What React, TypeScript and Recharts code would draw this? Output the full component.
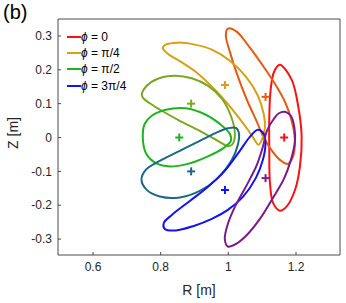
import React from "react";
import { ScatterChart, Scatter, XAxis, YAxis } from "recharts";

// flux surface cross-sections, [R, Z] in metres
const surfRed: [number, number][] = [
  [1.152, 0.215], [1.187, 0.171], [1.2065, 0.092], [1.2166, 0.003], [1.2115, -0.086],
  [1.197, -0.155], [1.172, -0.204], [1.152, -0.216], [1.1325, -0.194], [1.123, -0.135],
  [1.121, -0.036], [1.121, 0.062], [1.125, 0.141], [1.1355, 0.195],
];
const surfOrange: [number, number][] = [
  [0.9985, 0.3216], [1.0243, 0.3127], [1.0636, 0.2654], [1.1021, 0.2121], [1.1376, 0.1589],
  [1.1672, 0.1056], [1.1879, 0.0464], [1.1967, -0.0127], [1.1908, -0.0571], [1.176, -0.0778],
  [1.1524, -0.066], [1.1228, -0.0305], [1.105, -0.0009], [1.0843, 0.0464], [1.0547, 0.1115],
  [1.0251, 0.1885], [1.0044, 0.2536], [0.9926, 0.3009],
];
const surfGold: [number, number][] = [
  [0.8062, 0.264], [0.8151, 0.2743], [0.8506, 0.2802], [0.9009, 0.2743], [0.9512, 0.2595],
  [1.0044, 0.2269], [1.0518, 0.1796], [1.0873, 0.1234], [1.105, 0.0672], [1.108, 0.0287],
  [1.0991, -0.0068], [1.0888, -0.0216], [1.0784, -0.0083], [1.0577, 0.0228], [1.0222, 0.0701],
  [0.966, 0.1352], [0.9068, 0.1914], [0.8565, 0.2254], [0.821, 0.2476],
];
const surfOlive: [number, number][] = [
  [0.7441, 0.1263], [0.7589, 0.153], [0.7914, 0.1737], [0.8417, 0.1826], [0.892, 0.1751],
  [0.9393, 0.153], [0.9808, 0.1145], [1.0074, 0.0642], [1.0192, 0.0139], [1.0133, -0.0186],
  [1.0015, -0.026], [0.9689, -0.0098], [0.9157, 0.0198], [0.8565, 0.0494], [0.8033, 0.079],
  [0.7678, 0.1012], [0.75, 0.1145],
];
const surfGreen: [number, number][] = [
  [0.747, 0.005], [0.753, 0.0405], [0.7737, 0.0642], [0.8151, 0.082], [0.8743, 0.0864],
  [0.9334, 0.0672], [0.9778, 0.0376], [1.0044, 0.0109], [1.0074, -0.0098], [0.9867, -0.0305],
  [0.9364, -0.0571], [0.8802, -0.0778], [0.821, -0.0852], [0.7796, -0.0719], [0.7559, -0.0453],
];
const surfTeal: [number, number][] = [
  [0.7432, -0.1251], [0.7559, -0.0956], [0.7973, -0.0689], [0.8565, -0.0393], [0.9157, -0.0098],
  [0.9601, 0.0124], [0.9985, 0.0272], [1.0222, 0.0287], [1.0311, 0.0139], [1.0281, -0.0216],
  [1.0104, -0.066], [0.966, -0.1222], [0.9157, -0.1577], [0.8565, -0.1769], [0.7973, -0.174],
  [0.7589, -0.1547],
];
const surfBlue: [number, number][] = [
  [1.0873, 0.0228], [1.105, 0.0095], [1.1095, -0.0216], [1.1021, -0.066], [1.0814, -0.1192],
  [1.0429, -0.1754], [0.9985, -0.2139], [0.9512, -0.2405], [0.8979, -0.2612], [0.8447, -0.2746],
  [0.8121, -0.2701], [0.8092, -0.2524], [0.8328, -0.2287], [0.8861, -0.1873], [0.9393, -0.1459],
  [0.9867, -0.1015], [1.034, -0.0393], [1.0636, 0.0021],
];
const surfPurple: [number, number][] = [
  [1.1672, 0.076], [1.1849, 0.0642], [1.1953, 0.0287], [1.1967, -0.0127], [1.1849, -0.066],
  [1.1642, -0.1222], [1.1317, -0.1784], [1.0932, -0.2405], [1.0547, -0.2879], [1.0222, -0.3145],
  [0.9985, -0.3219], [0.9896, -0.2997], [0.9985, -0.2553], [1.0222, -0.1991], [1.0547, -0.1399],
  [1.0843, -0.0808], [1.1021, -0.0275], [1.1139, 0.0198], [1.1346, 0.0553], [1.1494, 0.0716],
];

// magnetic axis positions (same order as the surfaces)
const axisR = [1.165, 1.11, 0.99, 0.89, 0.855, 0.89, 0.99, 1.11];
const axisZ = [0, 0.12, 0.155, 0.1, 0, -0.1, -0.155, -0.12];

const legendLabels = ["0", "\u03c0/4", "\u03c0/2", "3\u03c0/4"];
const rTicks = [0.6, 0.8, 1, 1.2];
const zTicks = [-0.3, -0.2, -0.1, 0, 0.1, 0.2, 0.3];
const rDomain = [0.4965, 1.33];
const zDomain = [-0.347, 0.35];

const surfaces = [surfRed, surfOrange, surfGold, surfOlive, surfGreen, surfTeal, surfBlue, surfPurple];
const colors = ["#ff1010", "#e65a14", "#d6a118", "#7aa820", "#1fb41f", "#1b6a82", "#1212f5", "#7a1a8c"];
const legendColors = [colors[0], colors[2], colors[4], colors[6]];

const FONT = '"Liberation Sans", Arial, Helvetica, sans-serif';
const TEXT = "#262626";
const AXIS = "#4a4a4a";

// closed centripetal Catmull-Rom through the points (d3 curve factory shape)
const closedSpline = (context: any) => {
  let pts: number[][] = [];
  const EPS = 1e-9;
  return {
    areaStart() {},
    areaEnd() {},
    lineStart() {
      pts = [];
    },
    point(x: number, y: number) {
      pts.push([+x, +y]);
    },
    lineEnd() {
      const n = pts.length;
      if (!n) return;
      context.moveTo(pts[0][0], pts[0][1]);
      for (let i = 0; i < n; i++) {
        const p0 = pts[(i - 1 + n) % n];
        const p1 = pts[i];
        const p2 = pts[(i + 1) % n];
        const p3 = pts[(i + 2) % n];
        const d01 = Math.hypot(p1[0] - p0[0], p1[1] - p0[1]);
        const d12 = Math.hypot(p2[0] - p1[0], p2[1] - p1[1]);
        const d23 = Math.hypot(p3[0] - p2[0], p3[1] - p2[1]);
        const l01a = Math.sqrt(d01), l12a = Math.sqrt(d12), l23a = Math.sqrt(d23);
        let c1 = [p1[0], p1[1]];
        let c2 = [p2[0], p2[1]];
        if (l01a > EPS) {
          const a = 2 * d01 + 3 * l01a * l12a + d12;
          const m = 3 * l01a * (l01a + l12a);
          c1 = [(p1[0] * a - p0[0] * d12 + p2[0] * d01) / m, (p1[1] * a - p0[1] * d12 + p2[1] * d01) / m];
        }
        if (l23a > EPS) {
          const b = 2 * d23 + 3 * l23a * l12a + d12;
          const m = 3 * l23a * (l23a + l12a);
          c2 = [(p2[0] * b + p1[0] * d23 - p3[0] * d12) / m, (p2[1] * b + p1[1] * d23 - p3[1] * d12) / m];
        }
        context.bezierCurveTo(c1[0], c1[1], c2[0], c2[1], p2[0], p2[1]);
      }
      context.closePath();
    },
  };
};

const NoDot = () => <g />;

const PlusMark = (props: any) => {
  const { cx, cy, payload } = props;
  const c = payload.color;
  return (
    <g>
      <line x1={cx - 4} x2={cx + 4} y1={cy} y2={cy} stroke={c} strokeWidth={2} />
      <line x1={cx} x2={cx} y1={cy - 4} y2={cy + 4} stroke={c} strokeWidth={2} />
    </g>
  );
};

const fmt = (v: number) => String(v);

export default function App() {
  const axisPoints = axisR.map((r, i) => ({ r, z: axisZ[i], color: colors[i] }));
  const tickStyle = { fill: TEXT, fontSize: 12, fontFamily: FONT };

  return (
    <div style={{ position: "absolute", left: 0, top: 0, width: 346, height: 303, background: "#fff" }}>
      <div style={{ position: "absolute", left: 3, top: 1, fontFamily: FONT, fontSize: 20, color: "#000" }}>(b)</div>
      <ScatterChart width={346} height={303} margin={{ top: 19, right: 6, bottom: 0, left: 0 }}>
        <XAxis
          xAxisId="r"
          type="number"
          dataKey="r"
          domain={rDomain}
          ticks={rTicks}
          allowDataOverflow
          height={48}
          tickSize={-3}
          tickMargin={10}
          tickLine={{ stroke: AXIS }}
          axisLine={{ stroke: AXIS }}
          tick={tickStyle}
          tickFormatter={fmt}
          label={({ viewBox }: any) => (
            <text
              x={viewBox.x + viewBox.width / 2}
              y={viewBox.y + 40}
              textAnchor="middle"
              fill={TEXT}
              fontSize={14}
              fontFamily={FONT}
            >
              R [m]
            </text>
          )}
        />
        <XAxis
          xAxisId="top"
          orientation="top"
          type="number"
          mirror
          domain={rDomain}
          ticks={rTicks}
          allowDataOverflow
          tick={false}
          tickSize={3}
          tickLine={{ stroke: AXIS }}
          axisLine={{ stroke: AXIS }}
        />
        <YAxis
          yAxisId="z"
          type="number"
          dataKey="z"
          domain={zDomain}
          ticks={zTicks}
          allowDataOverflow
          width={58}
          tickSize={-3}
          tickMargin={9}
          tickLine={{ stroke: AXIS }}
          axisLine={{ stroke: AXIS }}
          tick={tickStyle}
          tickFormatter={fmt}
          label={({ viewBox }: any) => {
            const x = viewBox.x + 13;
            const y = viewBox.y + viewBox.height / 2 - 4;
            return (
              <text
                x={x}
                y={y}
                transform={`rotate(-90 ${x} ${y})`}
                textAnchor="middle"
                dominantBaseline="central"
                fill={TEXT}
                fontSize={14}
                fontFamily={FONT}
              >
                Z [m]
              </text>
            );
          }}
        />
        <YAxis
          yAxisId="right"
          orientation="right"
          type="number"
          mirror
          domain={zDomain}
          ticks={zTicks}
          allowDataOverflow
          tick={false}
          tickSize={3}
          tickLine={{ stroke: AXIS }}
          axisLine={{ stroke: AXIS }}
        />
        {surfaces.map((s, i) => (
          <Scatter
            key={i}
            xAxisId="r"
            yAxisId="z"
            data={s.map(([r, z]) => ({ r, z }))}
            fill={colors[i]}
            line={{ stroke: colors[i], strokeWidth: 2 }}
            lineType="joint"
            lineJointType={closedSpline as any}
            shape={NoDot}
            isAnimationActive={false}
          />
        ))}
        <Scatter
          xAxisId="r"
          yAxisId="z"
          data={axisPoints}
          fill="#000"
          shape={PlusMark}
          isAnimationActive={false}
        />
      </ScatterChart>
      <div style={{ position: "absolute", left: 67, top: 28.5, fontFamily: FONT, fontSize: 12, color: "#000" }}>
        {legendLabels.map((lab, i) => (
          <div key={i} style={{ display: "flex", alignItems: "center", height: 16.4, whiteSpace: "pre" }}>
            <span style={{ display: "inline-block", width: 14, height: 2, background: legendColors[i] }} />
            <span>
              <i>{"\u03d5"}</i>
              {" = " + lab}
            </span>
          </div>
        ))}
      </div>
    </div>
  );
}
